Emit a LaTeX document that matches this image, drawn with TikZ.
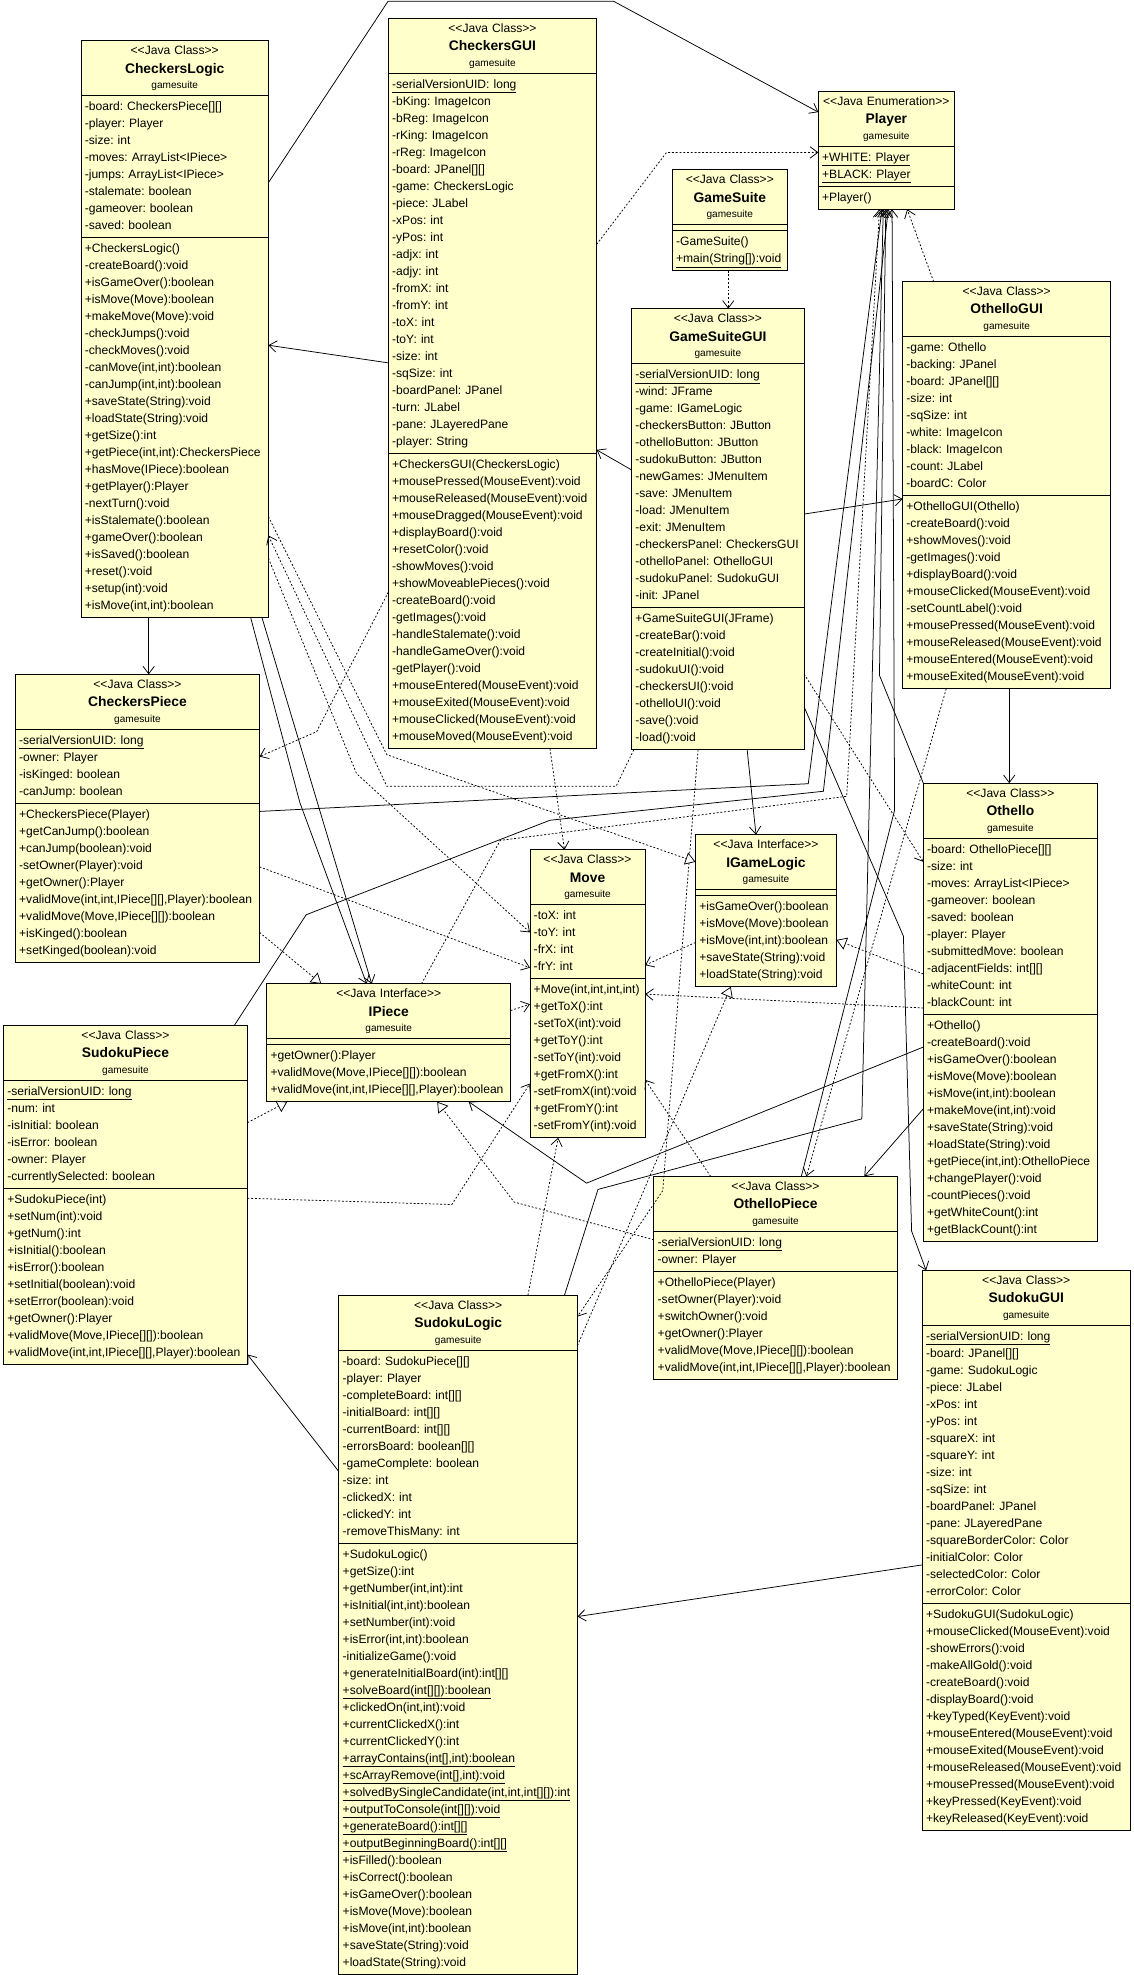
\documentclass[tikz,border=0pt]{standalone}
\usepackage{fontspec}
\setmainfont{Liberation Sans}
\usetikzlibrary{shapes.multipart,arrows.meta}
\definecolor{umlfill}{RGB}{255,255,204}
\newcommand\clshead[2]{\def\arraystretch{0}%
  \makebox[\linewidth][c]{\begin{tabular}{@{}c@{}}
  \fontsize{9.6}{12}\selectfont\rule[-3.75pt]{0pt}{12.5pt}<{}<#1>{}>\\
  \fontsize{11}{13}\selectfont\bfseries\rule[-4.65pt]{0pt}{15.5pt}#2\\
  \fontsize{8}{10}\selectfont\rule[-3.3pt]{0pt}{11pt}gamesuite
  \end{tabular}}}
\newcommand\rows[1]{\begin{tabular}{@{}l@{}}#1\end{tabular}}
\begin{document}
\begin{tikzpicture}[x=1pt,y=-1pt,
    cls/.style={rectangle split,rectangle split parts=3,draw,fill=umlfill,line width=0.7pt,
      anchor=north west,inner xsep=3pt,inner ysep=2pt,outer sep=0pt,align=left,
      font={\fontsize{9.6}{13.5}\selectfont\frenchspacing}},
    assoc/.style={line width=0.6pt,-{Straight Barb[length=6pt,width=9pt]}},
    dep/.style={assoc,dash pattern=on 1.5pt off 1.5pt},
    real/.style={line width=0.6pt,dash pattern=on 1.5pt off 1.5pt,-{Triangle[length=8pt,width=10pt,fill=white]}}]
                    \useasboundingbox (0,0) rectangle (900,1567.5);
                    %NODE
                    \node[cls,text width=142.7pt] (CL) at (64.3,32.3) {\clshead{Java Class}{CheckersLogic}
                    \nodepart{two}\rows{-board: CheckersPiece[][]\\-player: Player\\-size: int\\-moves: ArrayList<IPiece>\\-jumps: ArrayList<IPiece>\\-stalemate: boolean\\-gameover: boolean\\-saved: boolean}
                    \nodepart{three}\rows{+CheckersLogic()\\-createBoard():void\\+isGameOver():boolean\\+isMove(Move):boolean\\+makeMove(Move):void\\-checkJumps():void\\-checkMoves():void\\-canMove(int,int):boolean\\-canJump(int,int):boolean\\+saveState(String):void\\+loadState(String):void\\+getSize():int\\+getPiece(int,int):CheckersPiece\\+hasMove(IPiece):boolean\\+getPlayer():Player\\-nextTurn():void\\+isStalemate():boolean\\+gameOver():boolean\\+isSaved():boolean\\+reset():void\\+setup(int):void\\+isMove(int,int):boolean}};
                    \node[cls,text width=159.3pt] (CG) at (308.2,14.6) {\clshead{Java Class}{CheckersGUI}
                    \nodepart{two}\rows{\underline{-serialVersionUID: long}\\-bKing: ImageIcon\\-bReg: ImageIcon\\-rKing: ImageIcon\\-rReg: ImageIcon\\-board: JPanel[][]\\-game: CheckersLogic\\-piece: JLabel\\-xPos: int\\-yPos: int\\-adjx: int\\-adjy: int\\-fromX: int\\-fromY: int\\-toX: int\\-toY: int\\-size: int\\-sqSize: int\\-boardPanel: JPanel\\-turn: JLabel\\-pane: JLayeredPane\\-player: String}
                    \nodepart{three}\rows{+CheckersGUI(CheckersLogic)\\+mousePressed(MouseEvent):void\\+mouseReleased(MouseEvent):void\\+mouseDragged(MouseEvent):void\\+displayBoard():void\\+resetColor():void\\-showMoves():void\\+showMoveablePieces():void\\-createBoard():void\\-getImages():void\\-handleStalemate():void\\-handleGameOver():void\\-getPlayer():void\\+mouseEntered(MouseEvent):void\\+mouseExited(MouseEvent):void\\+mouseClicked(MouseEvent):void\\+mouseMoved(MouseEvent):void}};
                    \node[cls,text width=85.3pt] (GS) at (533.6,134.7) {\clshead{Java Class}{GameSuite}
                    \nodepart{two}\nodepart{three}\rows{-GameSuite()\\\underline{+main(String[]):void}}};
                    \node[cls,text width=130.9pt] (GSG) at (501.3,245) {\clshead{Java Class}{GameSuiteGUI}
                    \nodepart{two}\rows{\underline{-serialVersionUID: long}\\-wind: JFrame\\-game: IGameLogic\\-checkersButton: JButton\\-othelloButton: JButton\\-sudokuButton: JButton\\-newGames: JMenuItem\\-save: JMenuItem\\-load: JMenuItem\\-exit: JMenuItem\\-checkersPanel: CheckersGUI\\-othelloPanel: OthelloGUI\\-sudokuPanel: SudokuGUI\\-init: JPanel}
                    \nodepart{three}\rows{+GameSuiteGUI(JFrame)\\-createBar():void\\-createInitial():void\\-sudokuUI():void\\-checkersUI():void\\-othelloUI():void\\-save():void\\-load():void}};
                    \node[cls,text width=101.9pt] (PL) at (649.5,72.5) {\clshead{Java Enumeration}{Player}
                    \nodepart{two}\rows{\underline{+WHITE: Player}\\\underline{+BLACK: Player}}
                    \nodepart{three}\rows{+Player()}};
                    \node[cls,text width=159.1pt] (OG) at (716.4,223.5) {\clshead{Java Class}{OthelloGUI}
                    \nodepart{two}\rows{-game: Othello\\-backing: JPanel\\-board: JPanel[][]\\-size: int\\-sqSize: int\\-white: ImageIcon\\-black: ImageIcon\\-count: JLabel\\-boardC: Color}
                    \nodepart{three}\rows{+OthelloGUI(Othello)\\-createBoard():void\\+showMoves():void\\-getImages():void\\+displayBoard():void\\+mouseClicked(MouseEvent):void\\-setCountLabel():void\\+mousePressed(MouseEvent):void\\+mouseReleased(MouseEvent):void\\+mouseEntered(MouseEvent):void\\+mouseExited(MouseEvent):void}};
                    \node[cls,text width=187.8pt] (CP) at (12.2,535.3) {\clshead{Java Class}{CheckersPiece}
                    \nodepart{two}\rows{\underline{-serialVersionUID: long}\\-owner: Player\\-isKinged: boolean\\-canJump: boolean}
                    \nodepart{three}\rows{+CheckersPiece(Player)\\+getCanJump():boolean\\+canJump(boolean):void\\-setOwner(Player):void\\+getOwner():Player\\+validMove(int,int,IPiece[][],Player):boolean\\+validMove(Move,IPiece[][]):boolean\\+isKinged():boolean\\+setKinged(boolean):void}};
                    \node[cls,text width=85.4pt] (MV) at (420.6,674.4) {\clshead{Java Class}{Move}
                    \nodepart{two}\rows{-toX: int\\-toY: int\\-frX: int\\-frY: int}
                    \nodepart{three}\rows{+Move(int,int,int,int)\\+getToX():int\\-setToX(int):void\\+getToY():int\\-setToY(int):void\\+getFromX():int\\-setFromX(int):void\\+getFromY():int\\-setFromY(int):void}};
                    \node[cls,text width=105.8pt] (IGL) at (552,662.5) {\clshead{Java Interface}{IGameLogic}
                    \nodepart{two}\nodepart{three}\rows{+isGameOver():boolean\\+isMove(Move):boolean\\+isMove(int,int):boolean\\+saveState(String):void\\+loadState(String):void}};
                    \node[cls,text width=187.6pt] (IP) at (211.7,780.8) {\clshead{Java Interface}{IPiece}
                    \nodepart{two}\nodepart{three}\rows{+getOwner():Player\\+validMove(Move,IPiece[][]):boolean\\+validMove(int,int,IPiece[][],Player):boolean}};
                    \node[cls,text width=132.2pt] (OT) at (732.8,621.6) {\clshead{Java Class}{Othello}
                    \nodepart{two}\rows{-board: OthelloPiece[][]\\-size: int\\-moves: ArrayList<IPiece>\\-gameover: boolean\\-saved: boolean\\-player: Player\\-submittedMove: boolean\\-adjacentFields: int[][]\\-whiteCount: int\\-blackCount: int}
                    \nodepart{three}\rows{+Othello()\\-createBoard():void\\+isGameOver():boolean\\+isMove(Move):boolean\\+isMove(int,int):boolean\\+makeMove(int,int):void\\+saveState(String):void\\+loadState(String):void\\+getPiece(int,int):OthelloPiece\\+changePlayer():void\\-countPieces():void\\+getWhiteCount():int\\+getBlackCount():int}};
                    \node[cls,text width=187.6pt] (SP) at (2.8,813.8) {\clshead{Java Class}{SudokuPiece}
                    \nodepart{two}\rows{\underline{-serialVersionUID: long}\\-num: int\\-isInitial: boolean\\-isError: boolean\\-owner: Player\\-currentlySelected: boolean}
                    \nodepart{three}\rows{+SudokuPiece(int)\\+setNum(int):void\\+getNum():int\\+isInitial():boolean\\+isError():boolean\\+setInitial(boolean):void\\+setError(boolean):void\\+getOwner():Player\\+validMove(Move,IPiece[][]):boolean\\+validMove(int,int,IPiece[][],Player):boolean}};
                    \node[cls,text width=187pt] (OP) at (519,933.6) {\clshead{Java Class}{OthelloPiece}
                    \nodepart{two}\rows{\underline{-serialVersionUID: long}\\-owner: Player}
                    \nodepart{three}\rows{+OthelloPiece(Player)\\-setOwner(Player):void\\+switchOwner():void\\+getOwner():Player\\+validMove(Move,IPiece[][]):boolean\\+validMove(int,int,IPiece[][],Player):boolean}};
                    \node[cls,text width=183.3pt] (SL) at (269,1028) {\clshead{Java Class}{SudokuLogic}
                    \nodepart{two}\rows{-board: SudokuPiece[][]\\-player: Player\\-completeBoard: int[][]\\-initialBoard: int[][]\\-currentBoard: int[][]\\-errorsBoard: boolean[][]\\-gameComplete: boolean\\-size: int\\-clickedX: int\\-clickedY: int\\-removeThisMany: int}
                    \nodepart{three}\rows{+SudokuLogic()\\+getSize():int\\+getNumber(int,int):int\\+isInitial(int,int):boolean\\+setNumber(int):void\\+isError(int,int):boolean\\-initializeGame():void\\+generateInitialBoard(int):int[][]\\\underline{+solveBoard(int[][]):boolean}\\+clickedOn(int,int):void\\+currentClickedX():int\\+currentClickedY():int\\\underline{+arrayContains(int[],int):boolean}\\\underline{+scArrayRemove(int[],int):void}\\\underline{+solvedBySingleCandidate(int,int,int[][]):int}\\\underline{+outputToConsole(int[][]):void}\\\underline{+generateBoard():int[][]}\\\underline{+outputBeginningBoard():int[][]}\\+isFilled():boolean\\+isCorrect():boolean\\+isGameOver():boolean\\+isMove(Move):boolean\\+isMove(int,int):boolean\\+saveState(String):void\\+loadState(String):void}};
                    \node[cls,text width=159pt] (SG) at (732,1008.3) {\clshead{Java Class}{SudokuGUI}
                    \nodepart{two}\rows{\underline{-serialVersionUID: long}\\-board: JPanel[][]\\-game: SudokuLogic\\-piece: JLabel\\-xPos: int\\-yPos: int\\-squareX: int\\-squareY: int\\-size: int\\-sqSize: int\\-boardPanel: JPanel\\-pane: JLayeredPane\\-squareBorderColor: Color\\-initialColor: Color\\-selectedColor: Color\\-errorColor: Color}
                    \nodepart{three}\rows{+SudokuGUI(SudokuLogic)\\+mouseClicked(MouseEvent):void\\-showErrors():void\\-makeAllGold():void\\-createBoard():void\\-displayBoard():void\\+keyTyped(KeyEvent):void\\+mouseEntered(MouseEvent):void\\+mouseExited(MouseEvent):void\\+mouseReleased(MouseEvent):void\\+mousePressed(MouseEvent):void\\+keyPressed(KeyEvent):void\\+keyReleased(KeyEvent):void}};
                    
                    %EDGE
                    \draw[assoc] (CL.east |- 0,145) -- (308,1) -- (487,1) -- (PL.west |- 0,89);
                    \draw[assoc] (CG.west |- 0,288) -- (CL.east |- 0,274);
                    \draw[assoc] (GSG.west |- 0,373) -- (CG.east |- 0,357);
                    \draw[assoc] (GSG.east |- 0,408) -- (OG.west |- 0,396);
                    \draw[assoc] (GSG.south -| 593,0) -- (IGL.north -| 600,0);
                    \draw[assoc] (GSG.east |- 0,561) -- (717,743) -- (723.5,977) -- (SG.north -| 735,0);
                    \draw[assoc] (OG.south -| 801,0) -- (OT.north -| 801,0);
                    \draw[assoc] (CL.south -| 118,0) -- (CP.north -| 118,0);
                    \draw[assoc] (CL.south -| 199,0) -- (238,637) -- (IP.north -| 291,0);
                    \draw[assoc] (CL.south -| 208,0) -- (IP.north -| 295,0);
                    \draw[assoc] (CP.east |- 0,644) -- (641.5,622) -- (PL.south -| 700,0);
                    \draw[assoc] (SP.north -| 186,0) -- (243,726) -- (436.5,651) -- (653.5,628) -- (PL.south -| 705,0);
                    \draw[assoc] (OT.west |- 0,831) -- (465.5,939) -- (IP.south -| 372,0);
                    \draw[assoc] (OT.west |- 0,880) -- (OP.north -| 686,0);
                    \draw[assoc] (OT.north west) -- (698,536) -- (PL.south -| 703,0);
                    \draw[assoc] (OP.north -| 636,0) -- (710,643) -- (PL.south -| 708,0);
                    \draw[assoc] (SL.north -| 448,0) -- (474.6,944) -- (684,888) -- (PL.south -| 701,0);
                    \draw[assoc] (SL.west |- 0,1168) -- (SP.east |- 0,1075);
                    \draw[assoc] (SG.west |- 0,1242) -- (SL.east |- 0,1283);
                    \draw[dep] (GS.south -| 578,0) -- (GSG.north -| 578,0);
                    \draw[dep] (CG.east |- 0,194) -- (529,121) -- (PL.west |- 0,121);
                    \draw[dep] (OG.north -| 741,0) -- (PL.south -| 720,0);
                    \draw[dep] (CG.west |- 0,470) -- (251.3,580.7) -- (CP.east |- 0,600.5);
                    \draw[dep] (CG.south -| 436.5,0) -- (MV.north -| 448,0);
                    \draw[dep] (GSG.south -| 503,0) -- (489,624) -- (307,624) -- (CL.east |- 0,425);
                    \draw[dep] (CL.east |- 0,443) -- (283,614) -- (MV.west |- 0,740);
                    \draw[dep] (CP.east |- 0,688) -- (MV.west |- 0,768);
                    \draw[dep] (IP.east |- 0,802) -- (MV.west |- 0,797);
                    \draw[dep] (SP.east |- 0,951) -- (358.6,956) -- (MV.west |- 0,860);
                    \draw[dep] (IP.north -| 334.5,0) -- (397,667) -- (672,632) -- (PL.south -| 698,0);
                    \draw[dep] (IGL.west |- 0,748) -- (MV.east |- 0,766);
                    \draw[dep] (OT.west |- 0,800) -- (MV.east |- 0,789);
                    \draw[dep] (OP.north -| 564,0) -- (MV.east |- 0,857);
                    \draw[dep] (SL.north -| 419,0) -- (MV.south -| 443,0);
                    \draw[dep] (GSG.east |- 0,535) -- (OT.west |- 0,684);
                    \draw[dep] (GSG.south -| 554,0) -- (526,945) -- (SL.east |- 0,1045);
                    \draw[dep] (OG.south -| 751,0) -- (OP.north -| 640,0);
                    \draw[real] (CL.east |- 0,410) -- (307,599) -- (IGL.west |- 0,684);
                    \draw[real] (OT.west |- 0,773) -- (IGL.east |- 0,746);
                    \draw[real] (SL.east |- 0,1068) -- (IGL.south -| 580,0);
                    \draw[real] (CP.east |- 0,740) -- (IP.north -| 255,0);
                    \draw[real] (SP.east |- 0,891) -- (IP.south -| 228,0);
                    \draw[real] (OP.west |- 0,984) -- (408,954) -- (IP.south -| 347,0);
                \end{tikzpicture}
\end{document}
